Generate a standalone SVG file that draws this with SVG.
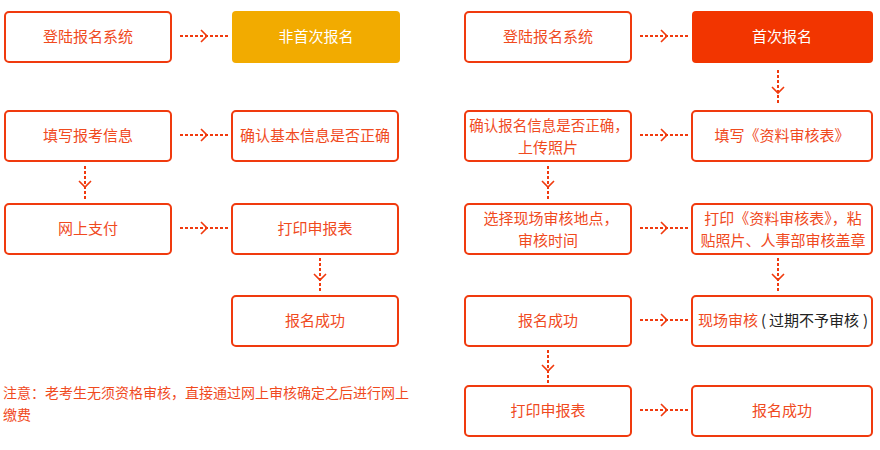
<svg xmlns="http://www.w3.org/2000/svg" width="880" height="450" viewBox="0 0 880 450">
<style>
.box{fill:#fff;stroke:#f03a0e;stroke-width:2}
.t{font-family:"Noto Sans CJK SC","Noto Sans",sans-serif;font-size:15px;fill:#f04a1e;text-anchor:middle}
.s{text-anchor:start}
.w{fill:#fff}
.k{fill:#222}
.dash{stroke:#f03a0e;stroke-width:2;stroke-dasharray:3,2;fill:none}
.head{stroke:#f03a0e;stroke-width:1.6;fill:none}
.note{font-family:"Noto Sans CJK SC","Noto Sans",sans-serif;font-size:14px;fill:#f04a1e}
</style>
<rect width="880" height="450" fill="#fff"/>

<g id="n1"><rect class="box" x="5" y="12" width="166" height="50" rx="4"/><text class="t" x="88" y="42">登陆报名系统</text></g>
<g id="n2"><rect x="232" y="11" width="168" height="52" rx="4" fill="#f2ab00"/><text class="t w" x="316" y="42">非首次报名</text></g>
<g id="n3"><rect class="box" x="5" y="111" width="166" height="50" rx="4"/><text class="t" x="88" y="141">填写报考信息</text></g>
<g id="n4"><rect class="box" x="232" y="111" width="166" height="50" rx="4"/><text class="t" x="315" y="141">确认基本信息是否正确</text></g>
<g id="n5"><rect class="box" x="5" y="204" width="166" height="50" rx="4"/><text class="t" x="88" y="234">网上支付</text></g>
<g id="n6"><rect class="box" x="232" y="204" width="166" height="50" rx="4"/><text class="t" x="315" y="234">打印申报表</text></g>
<g id="n7"><rect class="box" x="232" y="296" width="166" height="50" rx="4"/><text class="t" x="315" y="326">报名成功</text></g>

<g id="m1"><rect class="box" x="465" y="12" width="166" height="50" rx="4"/><text class="t" x="548" y="42">登陆报名系统</text></g>
<g id="m2"><rect x="692" y="11" width="181" height="52" rx="4" fill="#f23500"/><text class="t w" x="782" y="42">首次报名</text></g>
<g id="m3"><rect class="box" x="465" y="111" width="166" height="50" rx="4"/><text class="t" x="549" y="131" style="font-size:14.5px">确认报名信息是否正确，</text><text class="t" x="548" y="153">上传照片</text></g>
<g id="m4"><rect class="box" x="692" y="111" width="180" height="50" rx="4"/><text class="t" x="782" y="141">填写《资料审核表》</text></g>
<g id="m5"><rect class="box" x="465" y="204" width="166" height="50" rx="4"/><text class="t" x="551" y="224">选择现场审核地点，</text><text class="t" x="548" y="246">审核时间</text></g>
<g id="m6"><rect class="box" x="692" y="204" width="180" height="50" rx="4"/><text class="t" x="783" y="224">打印《资料审核表》，粘</text><text class="t" x="783" y="246">贴照片、人事部审核盖章</text></g>
<g id="m7"><rect class="box" x="465" y="296" width="166" height="50" rx="4"/><text class="t" x="548" y="326">报名成功</text></g>
<g id="m8"><rect class="box" x="692" y="296" width="180" height="50" rx="4"/><text class="t s" x="698" y="326">现场审核<tspan class="k" x="761">(</tspan><tspan class="k" x="769">过期不予审核</tspan><tspan class="k" x="863">)</tspan></text></g>
<g id="m9"><rect class="box" x="465" y="386" width="166" height="50" rx="4"/><text class="t" x="548" y="416">打印申报表</text></g>
<g id="m10"><rect class="box" x="692" y="386" width="180" height="50" rx="4"/><text class="t" x="782" y="416">报名成功</text></g>

<g id="connectors">
<path class="dash" d="M180 36H228M180 135H228M180 228H228"/>
<path class="head" d="M201 30L207 36L201 42M201 129L207 135L201 141M201 222L207 228L201 234"/>
<path class="dash" d="M640 36H688M640 135H688M640 228H688M640 320H688M640 410H688"/>
<path class="head" d="M661 30L667 36L661 42M661 129L667 135L661 141M661 222L667 228L661 234M661 314L667 320L661 326M661 404L667 410L661 416"/>
<path class="dash" d="M85 166V200M320 258V292M548 166V200M548 350V384M778 70V104M778 258V292"/>
<path class="head" d="M79 181L85 187L91 181M314 274L320 280L326 274M542 181L548 187L554 181M542 365L548 371L554 365M772 87L778 93L784 87M772 274L778 280L784 274"/>
</g>

<g id="note">
<text class="note" x="3" y="398">注意：老考生无须资格审核，直接通过网上审核确定之后进行网上</text>
<text class="note" x="3" y="420">缴费</text>
</g>
</svg>
